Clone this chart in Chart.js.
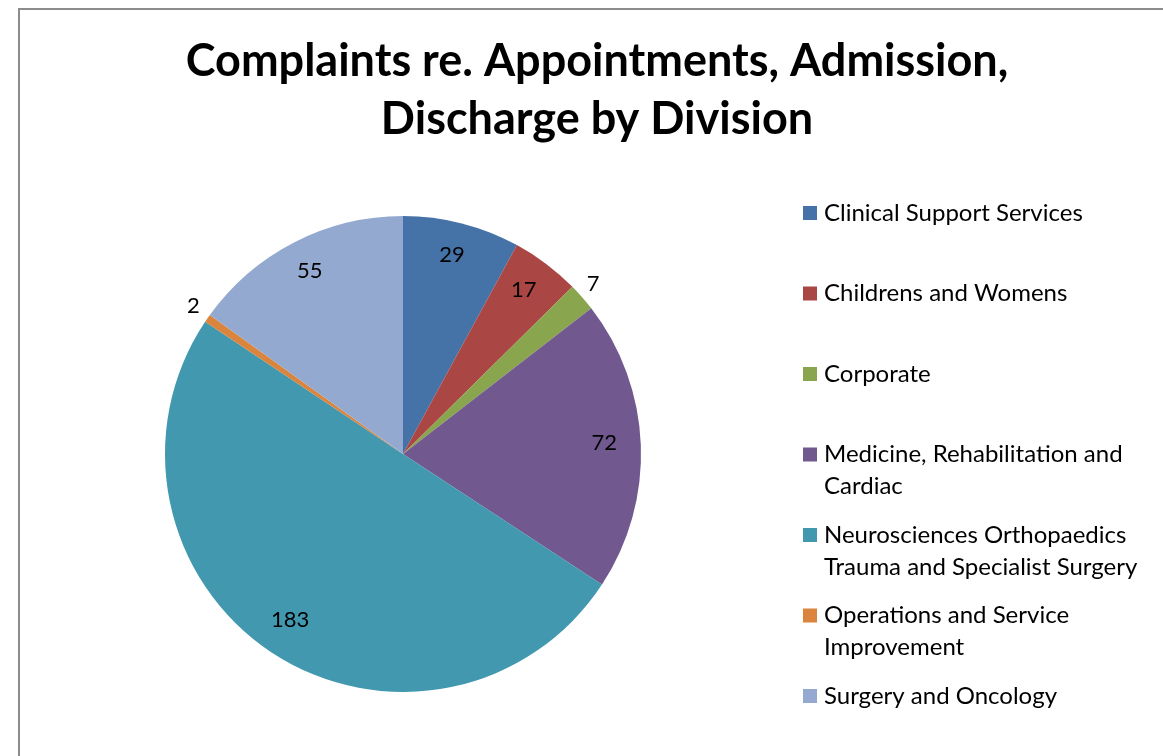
<!DOCTYPE html>
<html>
<head>
<meta charset="utf-8">
<script src="https://cdn.jsdelivr.net/npm/chart.js@4/dist/chart.umd.min.js"></script>
<style>
  html, body { margin: 0; padding: 0; background: #fff; overflow: hidden; }
  #wrap { position: relative; width: 1163px; height: 756px; }
  #frame { position: absolute; left: 18px; top: 8px; width: 1300px; height: 900px; border: 2px solid #8c8c8c; box-sizing: border-box; }
  canvas { position: absolute; left: 0; top: 0; }
</style>
</head>
<body>
<div id="wrap">
  <div id="frame"></div>
  <canvas id="chart" width="1163" height="756"></canvas>
</div>
<script>
const titleLines = ['Complaints re. Appointments, Admission,', 'Discharge by Division']
const divisions = [
  'Clinical Support Services',
  'Childrens and Womens',
  'Corporate',
  'Medicine, Rehabilitation and Cardiac',
  'Neurosciences Orthopaedics Trauma and Specialist Surgery',
  'Operations and Service Improvement',
  'Surgery and Oncology'
]
const complaints = [29, 17, 7, 72, 183, 2, 55]
const colours = ['#4572A7', '#AA4643', '#89A54E', '#71588F', '#4198AF', '#DB843D', '#93A9CF']

const FONT = 'Lato, "Open Sans", sans-serif'

// title, wrapped legend and value labels, all drawn on the canvas
const decorations = {
  id: 'decorations',
  afterDraw(chart) {
    const ctx = chart.ctx
    ctx.save()

    // title
    ctx.fillStyle = '#000'
    ctx.font = 'bold 45px ' + FONT
    ctx.textAlign = 'center'
    ctx.textBaseline = 'middle'
    titleLines.forEach((line, i) => ctx.fillText(line, 597, 61 + i * 58))

    // value labels (tiny slices get theirs just outside the rim)
    const meta = chart.getDatasetMeta(0)
    const total = complaints.reduce((a, b) => a + b, 0)
    ctx.font = '22px ' + FONT
    meta.data.forEach((arc, i) => {
      const mid = (arc.startAngle + arc.endAngle) / 2
      const small = complaints[i] / total < 0.03
      const dist = small ? arc.outerRadius + 16 : arc.outerRadius * 0.85
      ctx.fillText(String(complaints[i]), arc.x + Math.cos(mid) * dist - 1, arc.y + Math.sin(mid) * dist - 3)
    })

    // legend
    ctx.textAlign = 'left'
    ctx.font = '24px ' + FONT
    const maxW = 340
    divisions.forEach((name, i) => {
      const y0 = 213 + i * 80.5
      ctx.fillStyle = colours[i]
      ctx.fillRect(803, y0 - 7, 14, 14)
      ctx.fillStyle = '#000'
      const words = name.split(' ')
      const lines = []
      let cur = ''
      words.forEach(w => {
        const test = cur ? cur + ' ' + w : w
        if (ctx.measureText(test).width > maxW && cur) {
          lines.push(cur)
          cur = w
        } else {
          cur = test
        }
      })
      lines.push(cur)
      lines.forEach((l, j) => ctx.fillText(l, 824, y0 + j * 32))
    })

    ctx.restore()
  }
}

new Chart(document.getElementById('chart'), {
  type: 'pie',
  data: {
    labels: divisions,
    datasets: [{
      data: complaints,
      backgroundColor: colours,
      borderWidth: 0
    }]
  },
  options: {
    responsive: false,
    animation: false,
    layout: { padding: { left: 165, right: 522, top: 216, bottom: 64 } },
    plugins: {
      legend: { display: false },
      tooltip: { enabled: false },
      title: { display: false }
    }
  },
  plugins: [decorations]
})
</script>
</body>
</html>
